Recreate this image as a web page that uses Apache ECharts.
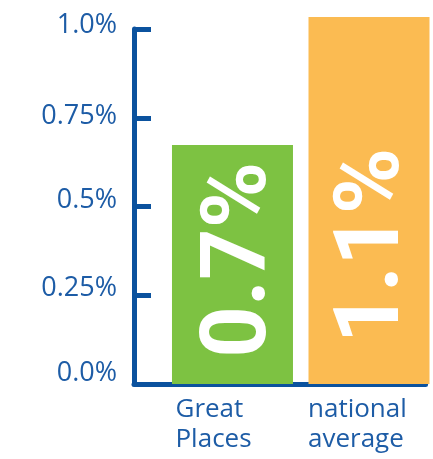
<!DOCTYPE html>
<html>
<head>
<meta charset="utf-8">
<script src="https://cdn.jsdelivr.net/npm/echarts@6/dist/echarts.min.js"></script>
<style>
html,body{margin:0;padding:0;background:#fff;}
#chart{width:433px;height:459px;}
</style>
</head>
<body>
<div id="chart"></div>
<script>
// ---- data ----
const categories = ['Great\nPlaces', 'national\naverage'];
const values = [0.673, 1.034];
const valueLabels = ['0.7%', '1.1%'];
const yTickLabels = ['0.0%', '0.25%', '0.5%', '0.75%', '1.0%'];

// ---- styling ----
const barColors = ['#7dc242', '#fbbb52'];
const labelX = ['58.5%', '55%'];
const yLabelLift = [22, 13, 12, 2, 8];
const axisBlue = '#0b529e';
const textBlue = '#1d5ca6';

const chart = echarts.init(document.getElementById('chart'), null, {renderer: 'canvas'});

const catStyle = {align: 'left', fontSize: 26, lineHeight: 30, fontFamily: 'Open Sans', color: textBlue};
const yRich = {};
yLabelLift.forEach((p, i) => {
  yRich['y' + i] = {fontSize: 27, fontFamily: 'Open Sans', color: textBlue, padding: [0, 0, p, 0]};
});

const option = {
  animation: false,
  backgroundColor: '#fff',
  grid: {left: 134, right: 0, top: 29, bottom: 75, containLabel: false},
  xAxis: {
    type: 'value',
    min: -0.7214,
    max: 1.4143,
    splitLine: {show: false},
    axisTick: {show: false},
    axisLine: {show: true, onZero: false, lineStyle: {color: axisBlue, width: 5}},
    axisLabel: {
      customValues: [0, 1],
      margin: 11,
      formatter: function (v) {
        const i = Math.round(v);
        const name = categories[i] || '';
        return name.split('\n').map(s => '{a' + i + '|' + s + '}').join('\n');
      },
      rich: {
        a0: Object.assign({width: 114}, catStyle),
        a1: Object.assign({width: 122}, catStyle)
      }
    }
  },
  yAxis: {
    type: 'value',
    min: 0,
    max: 1,
    interval: 0.25,
    splitLine: {show: false},
    axisLine: {show: true, onZero: false, lineStyle: {color: axisBlue, width: 5}},
    axisTick: {show: true, inside: true, length: 17, lineStyle: {color: axisBlue, width: 5}},
    axisLabel: {
      margin: 17,
      formatter: function (v) {
        const i = Math.round(v / 0.25);
        return '{y' + i + '|' + yTickLabels[i] + '}';
      },
      rich: yRich
    }
  },
  series: [{
    type: 'bar',
    barWidth: 121,
    clip: false,
    silent: true,
    data: values.map((v, i) => ({
      value: [i, v],
      itemStyle: {color: barColors[i]},
      label: {
        show: true,
        formatter: valueLabels[i],
        position: [labelX[i], '89%'],
        rotate: 90,
        align: 'left',
        verticalAlign: 'middle',
        color: '#fff',
        fontSize: 90,
        fontWeight: 'bold',
        fontFamily: 'Roboto, "Open Sans", sans-serif'
      }
    }))
  }]
};
chart.setOption(option);
</script>
</body>
</html>
